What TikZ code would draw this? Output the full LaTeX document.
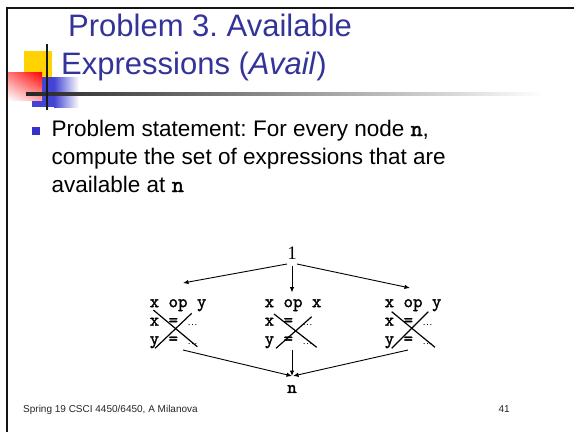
\documentclass[tikz,border=0pt]{standalone}
\usepackage{fontspec}
\setmainfont{Liberation Sans}
\newfontfamily\numfont{Liberation Serif}
\newfontfamily\codefont{lmmono10-regular.otf}[FakeBold=1.6]
\usetikzlibrary{calc,arrows.meta,shadings}

\definecolor{titleblue}{RGB}{51,51,153}
\definecolor{bulletblue}{RGB}{51,51,204}
\definecolor{decoyellow}{RGB}{255,210,0}
\definecolor{decoblue}{RGB}{68,68,212}
\definecolor{framegray}{RGB}{20,20,20}

% small light ellipsis used after the assignments
\newcommand{\smalldots}{{\numfont\fontsize{10}{10}\selectfont\char"2026}}
\newcommand{\codevar}[1]{{\codefont #1}}

\begin{document}
\frenchspacing
\begin{tikzpicture}[x=1pt,y=-1pt,
  titletext/.style={anchor=base west,inner sep=0,text=titleblue,font=\fontsize{31}{31}\selectfont},
  bodytext/.style={anchor=base west,inner sep=0,font=\fontsize{22.5}{22.5}\selectfont},
  footer/.style={inner sep=0,text=black!85,font=\fontsize{10}{10}\selectfont},
  block/.style={anchor=north west,inner sep=0,align=left,font=\codefont\fontsize{18}{18.5}\selectfont},
  flow/.style={line width=0.9pt,-{Latex[length=5.5pt,width=4.5pt]}},
  strike/.style={line width=1.2pt}]
\useasboundingbox (0,0) rectangle (574,432);
\fill[white] (0,0) rectangle (574,432);

% slide frame
\draw[framegray,line width=2.6pt] (6,8) -- (574,8);
\draw[framegray,line width=2.6pt] (7,6.7) -- (7,432);

% corner ornament
\fill[decoyellow] (24,51) rectangle (52,78);
\fill[decoblue] (32,77) rectangle (54,107);
\shade[left color=decoblue,right color=white] (54,77) rectangle (79,107);
\shade[upper left=red!55!white,upper right=red,lower left=white,lower right=red!35!white] (8,72) rectangle (42,100);
\shade[left color=black!85,right color=white] (26,92.6) rectangle (545,95.4);
\draw[black!90,line width=2pt] (47,44) -- (47,110);

% title
\node[titletext] (title1) at (68,36) {Problem 3. Available};
\node[titletext] (title2) at (61,74) {Expressions (\textit{Avail})};

% bullet text
\fill[bulletblue] (32,127.3) rectangle (40,135);
\node[bodytext] (line1) at (51.5,136) {Problem statement: For every node {\fontsize{23}{23}\selectfont\codevar{n}},};
\node[bodytext] (line2) at (51.5,164.5) {compute the set of expressions that are};
\node[bodytext] (line3) at (51.5,192) {available at {\fontsize{23}{23}\selectfont\codevar{n}}};

% flow graph
\node[inner sep=0,font=\numfont\fontsize{19}{19}\selectfont] (one) at (292,253) {1};
\node[block] (b1) at (149.5,294) {\strut x op y\\\strut x = \smalldots\\\strut y = \smalldots};
\node[block] (b2) at (264.5,294) {\strut x op x\\\strut x = \smalldots\\\strut y = \smalldots};
\node[block] (b3) at (384.5,294) {\strut x op y\\\strut x = \smalldots\\\strut y = \smalldots};
\node[inner sep=0,font=\codefont\fontsize{18}{18}\selectfont] (n) at (292,389) {n};

\draw[flow] ($(one.center)+(-5,11)$) -- ($(b1.north west)+(33.5,-11)$);
\draw[flow] ($(one.center)+(0,13)$) -- ($(b2.north west)+(27.5,-1.5)$);
\draw[flow] ($(one.center)+(5,11)$) -- ($(b3.north west)+(25.5,-6)$);

\draw[flow] ($(b1.north west)+(33.5,56)$) -- ($(n.center)+(0,-13)$);
\draw[flow] ($(b2.north west)+(27.5,56)$) -- ($(n.center)+(0,-13)$);
\draw[flow] ($(b3.north west)+(23.5,56)$) -- ($(n.center)+(1,-13)$);

% kill marks over each block
\draw[strike] ($(b1.north west)+(3.8,16)$) -- ($(b1.north west)+(47.8,52.7)$);
\draw[strike] ($(b1.north west)+(5.5,54.3)$) -- ($(b1.north west)+(42.2,19.3)$);
\draw[strike] ($(b2.north west)+(9.5,20)$) -- ($(b2.north west)+(52.2,53.3)$);
\draw[strike] ($(b2.north west)+(11.5,54.3)$) -- ($(b2.north west)+(47.2,22.7)$);
\draw[strike] ($(b3.north west)+(7.2,17.7)$) -- ($(b3.north west)+(50.5,53.3)$);
\draw[strike] ($(b3.north west)+(7.2,54.3)$) -- ($(b3.north west)+(43.8,17.7)$);

% footer
\node[footer,anchor=base west] (foot) at (23,412) {Spring 19 CSCI 4450/6450, A Milanova};
\node[footer,anchor=base east] (page) at (510,412) {41};
\end{tikzpicture}
\end{document}
